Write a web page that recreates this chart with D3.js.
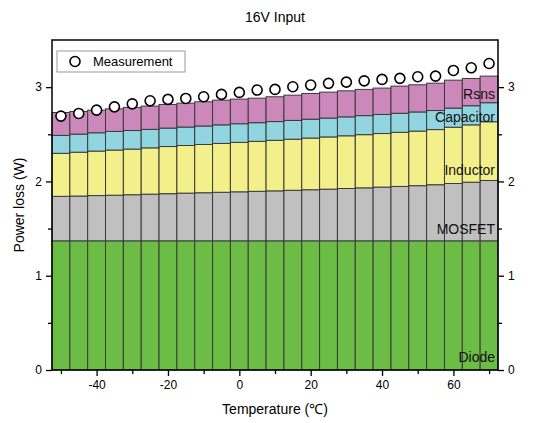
<!DOCTYPE html>
<html>
<head>
<meta charset="utf-8">
<script src="https://cdn.jsdelivr.net/npm/d3@7"></script>
<style>
  body { margin: 0; background: #fff; }
  svg { font-family: "Liberation Sans", Arial, sans-serif; }
</style>
</head>
<body>
<svg id="chart" width="549" height="423"></svg>
<script>
// Temperature steps (°C)
const temps = [-50, -45, -40, -35, -30, -25, -20, -15, -10, -5, 0, 5, 10, 15, 20, 25, 30, 35, 40, 45, 50, 55, 60, 65, 70];

// loss components (W), bottom to top
const diode = [1.37, 1.37, 1.37, 1.37, 1.37, 1.37, 1.37, 1.37, 1.37, 1.37, 1.37, 1.37, 1.37, 1.37, 1.37, 1.37, 1.37, 1.37, 1.37, 1.37, 1.37, 1.37, 1.37, 1.37, 1.37];
const mosfet = [0.472, 0.475, 0.48, 0.484, 0.489, 0.495, 0.50, 0.506, 0.51, 0.515, 0.52, 0.525, 0.53, 0.536, 0.542, 0.548, 0.555, 0.562, 0.57, 0.577, 0.585, 0.595, 0.608, 0.622, 0.64];
const inductor = [0.456, 0.465, 0.472, 0.479, 0.484, 0.491, 0.50, 0.505, 0.512, 0.518, 0.524, 0.53, 0.536, 0.542, 0.548, 0.554, 0.559, 0.564, 0.568, 0.574, 0.579, 0.585, 0.597, 0.608, 0.623];
const capacitor = [0.19, 0.192, 0.194, 0.197, 0.197, 0.196, 0.196, 0.196, 0.196, 0.197, 0.198, 0.198, 0.199, 0.199, 0.20, 0.20, 0.201, 0.202, 0.202, 0.202, 0.203, 0.202, 0.203, 0.203, 0.202];
const rsns = [0.243, 0.24, 0.24, 0.24, 0.245, 0.247, 0.25, 0.253, 0.257, 0.262, 0.261, 0.26, 0.263, 0.268, 0.273, 0.275, 0.276, 0.278, 0.28, 0.288, 0.288, 0.29, 0.296, 0.289, 0.282];

// measured total loss (W)
const measurement = [2.693, 2.721, 2.756, 2.791, 2.823, 2.855, 2.870, 2.880, 2.898, 2.923, 2.944, 2.969, 2.976, 3.004, 3.022, 3.040, 3.053, 3.067, 3.082, 3.093, 3.110, 3.117, 3.177, 3.205, 3.251];

const keys = ["Diode", "MOSFET", "Inductor", "Capacitor", "Rsns"];
const colors = { Diode: "#6cbd45", MOSFET: "#c0c0c0", Inductor: "#f3ef8a", Capacitor: "#91d5e0", Rsns: "#cc88bb" };

const xTicks = [-40, -20, 0, 20, 40, 60];
const xMinor = [-50, -30, -10, 10, 30, 50, 70];
const yTicks = [0, 1, 2, 3];
const yMinor = [0.5, 1.5, 2.5];

const rows = temps.map((t, i) => ({
    t: t, Diode: diode[i], MOSFET: mosfet[i], Inductor: inductor[i],
    Capacitor: capacitor[i], Rsns: rsns[i]
}));

const svg = d3.select("#chart");
const margin = { top: 40, right: 51, bottom: 53, left: 52 };
const width = 549 - margin.left - margin.right;
const height = 423 - margin.top - margin.bottom;

const x = d3.scaleLinear().domain([-52.5, 72.5]).range([0, width]);
const y = d3.scaleLinear().domain([0, 3.5]).range([height, 0]);
const plain = d => String(d);

const g = svg.append("g").attr("transform", `translate(${margin.left},${margin.top})`);

// stacked bars
const series = d3.stack().keys(keys)(rows);
g.selectAll(".layer")
    .data(series)
    .enter().append("g")
    .attr("class", "layer")
    .attr("fill", d => colors[d.key])
    .selectAll("rect")
    .data(d => d)
    .enter().append("rect")
    .attr("x", d => x(d.data.t - 2.5))
    .attr("width", d => x(d.data.t + 2.5) - x(d.data.t - 2.5))
    .attr("y", d => y(d[1]))
    .attr("height", d => y(d[0]) - y(d[1]))
    .attr("stroke", "#3a3a3a")
    .attr("stroke-width", 1);

// measurement markers
g.selectAll(".meas")
    .data(measurement)
    .enter().append("circle")
    .attr("class", "meas")
    .attr("cx", (d, i) => x(temps[i]))
    .attr("cy", d => y(d))
    .attr("r", 5)
    .attr("fill", "#fff")
    .attr("stroke", "#000")
    .attr("stroke-width", 1.6);

// component labels
const labelPos = [
    { text: "Rsns", v: 2.93 },
    { text: "Capacitor", v: 2.68 },
    { text: "Inductor", v: 2.12 },
    { text: "MOSFET", v: 1.49 },
    { text: "Diode", v: 0.14 }
];
g.selectAll(".lab")
    .data(labelPos)
    .enter().append("text")
    .attr("x", width - 3)
    .attr("y", d => y(d.v))
    .attr("text-anchor", "end")
    .attr("dy", "0.35em")
    .style("font-size", "14px")
    .attr("fill", "#111")
    .text(d => d.text);

// axes
function styleAxis(sel) {
    sel.select(".domain").remove();
    sel.selectAll("line").attr("stroke", "#000").attr("stroke-width", 1.3);
    sel.selectAll("text").style("font-size", "12px").attr("fill", "#000");
}

g.append("g")
    .attr("transform", `translate(0,${height})`)
    .call(d3.axisBottom(x).tickValues(xTicks).tickFormat(plain).tickSize(6).tickPadding(4))
    .call(styleAxis);
g.append("g")
    .attr("transform", `translate(0,${height})`)
    .call(d3.axisBottom(x).tickValues(xMinor).tickSize(4).tickFormat(""))
    .call(styleAxis);

g.append("g")
    .call(d3.axisLeft(y).tickValues(yTicks).tickFormat(plain).tickSize(6).tickPadding(4))
    .call(styleAxis);
g.append("g")
    .call(d3.axisLeft(y).tickValues(yMinor).tickSize(4).tickFormat(""))
    .call(styleAxis);

g.append("g")
    .attr("transform", `translate(${width},0)`)
    .call(d3.axisRight(y).tickValues(yTicks).tickFormat(plain).tickSize(6).tickPadding(4))
    .call(styleAxis);
g.append("g")
    .attr("transform", `translate(${width},0)`)
    .call(d3.axisRight(y).tickValues(yMinor).tickSize(4).tickFormat(""))
    .call(styleAxis);

// frame
g.append("rect")
    .attr("width", width)
    .attr("height", height)
    .attr("fill", "none")
    .attr("stroke", "#000")
    .attr("stroke-width", 1.5);

// legend
const legend = g.append("g").attr("transform", "translate(5,11)");
legend.append("rect")
    .attr("width", 128).attr("height", 21)
    .attr("fill", "#fff").attr("stroke", "#999").attr("stroke-width", 1);
legend.append("circle")
    .attr("cx", 18).attr("cy", 10.5).attr("r", 5)
    .attr("fill", "#fff").attr("stroke", "#000").attr("stroke-width", 1.6);
legend.append("text")
    .attr("x", 36).attr("y", 10.5).attr("dy", "0.35em")
    .style("font-size", "13px")
    .text("Measurement");

// titles
svg.append("text")
    .attr("x", margin.left + width / 2)
    .attr("y", 22)
    .attr("text-anchor", "middle")
    .style("font-size", "14px")
    .text("16V Input");

svg.append("text")
    .attr("x", margin.left + width / 2)
    .attr("y", 414)
    .attr("text-anchor", "middle")
    .style("font-size", "14px")
    .text("Temperature (℃)");

svg.append("text")
    .attr("transform", `translate(24,${margin.top + height / 2}) rotate(-90)`)
    .attr("text-anchor", "middle")
    .style("font-size", "14px")
    .text("Power loss (W)");
</script>
</body>
</html>
